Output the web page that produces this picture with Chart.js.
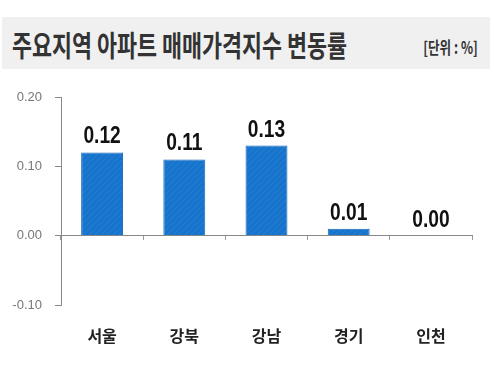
<!DOCTYPE html>
<html>
<head>
<meta charset="utf-8">
<script src="https://cdn.jsdelivr.net/npm/chart.js@4.4.1/dist/chart.umd.min.js"></script>
<style>
html,body{margin:0;padding:0;background:#fff;}
#wrap{position:relative;width:494px;height:368px;overflow:hidden;}
#band{position:absolute;left:2px;top:17px;width:488px;height:52px;background:#f0f0f0;}
#title{position:absolute;left:12px;top:30px;font-family:"Noto Sans CJK KR",sans-serif;font-weight:700;font-size:29px;line-height:29px;color:#333;white-space:nowrap;transform:scaleX(0.75);transform-origin:left center;}
#unit{position:absolute;right:16px;top:37px;font-family:"Noto Sans CJK KR",sans-serif;font-weight:700;font-size:17px;line-height:19px;color:#333;white-space:nowrap;transform:scaleX(0.74);transform-origin:right center;}
canvas{position:absolute;left:0;top:0;}
</style>
</head>
<body>
<div id="wrap">
<div id="band"></div>
<div id="title">주요지역 아파트 매매가격지수 변동률</div>
<div id="unit">[단위 : %]</div>
<canvas id="c" width="494" height="368"></canvas>
</div>
<script>
const categories = ["서울", "강북", "강남", "경기", "인천"];
const values = [0.12, 0.11, 0.13, 0.01, 0.00];
const yTicks = [-0.10, 0.00, 0.10, 0.20];

function makePattern() {
  const p = document.createElement('canvas');
  p.width = 6; p.height = 6;
  const g = p.getContext('2d');
  g.fillStyle = '#1674cc';
  g.fillRect(0, 0, 6, 6);
  g.strokeStyle = 'rgba(60,140,220,0.45)';
  g.lineWidth = 1;
  g.beginPath();
  g.moveTo(0, 6); g.lineTo(6, 0);
  g.moveTo(-3, 3); g.lineTo(3, -3);
  g.moveTo(3, 9); g.lineTo(9, 3);
  g.stroke();
  return document.getElementById('c').getContext('2d').createPattern(p, 'repeat');
}

const valueLabels = {
  id: 'valueLabels',
  afterDatasetsDraw(chart) {
    const ctx = chart.ctx;
    const meta = chart.getDatasetMeta(0);
    meta.data.forEach((bar, i) => {
      ctx.save();
      ctx.font = 'bold 24px "Liberation Sans", Arial, sans-serif';
      ctx.fillStyle = '#111';
      ctx.textAlign = 'center';
      ctx.textBaseline = 'alphabetic';
      ctx.translate(bar.x, bar.y - 9);
      ctx.scale(0.8, 1);
      ctx.fillText(values[i].toFixed(2), 0, 0);
      ctx.restore();
    });
  }
};

new Chart(document.getElementById('c'), {
  type: 'bar',
  data: {
    labels: categories,
    datasets: [{
      data: values,
      backgroundColor: makePattern(),
      borderColor: '#1467bd',
      borderWidth: 1,
      borderSkipped: 'bottom',
      categoryPercentage: 1,
      barPercentage: 0.51
    }]
  },
  options: {
    responsive: false,
    animation: false,
    events: [],
    layout: { padding: { left: 0, right: 22, top: 97, bottom: 15 } },
    plugins: { legend: { display: false }, tooltip: { enabled: false } },
    scales: {
      y: {
        min: -0.10, max: 0.20,
        afterFit(s) { s.width = 61; },
        afterBuildTicks(s) { s.ticks = yTicks.map(v => ({ value: v })); },
        ticks: {
          padding: 13,
          color: '#777',
          font: { family: '"Liberation Sans", Arial, sans-serif', size: 13 },
          callback: v => Number(v).toFixed(2)
        },
        grid: { drawOnChartArea: false, drawTicks: true, tickLength: 6, color: '#888' },
        border: { display: true, color: '#888', width: 1 }
      },
      x: {
        position: { y: 0 },
        ticks: { display: false },
        grid: { offset: true, drawOnChartArea: false, drawTicks: true, tickLength: 4, color: '#999' },
        border: { display: true, color: '#888', width: 1 }
      },
      xl: {
        type: 'category',
        position: 'bottom',
        labels: categories,
        offset: true,
        afterFit(s) { s.height = 48; },
        ticks: {
          padding: 13,
          color: '#222',
          font: { family: '"Noto Sans CJK KR", sans-serif', size: 16, weight: '600' }
        },
        grid: { display: false },
        border: { display: false }
      }
    }
  },
  plugins: [valueLabels]
});
</script>
</body>
</html>
